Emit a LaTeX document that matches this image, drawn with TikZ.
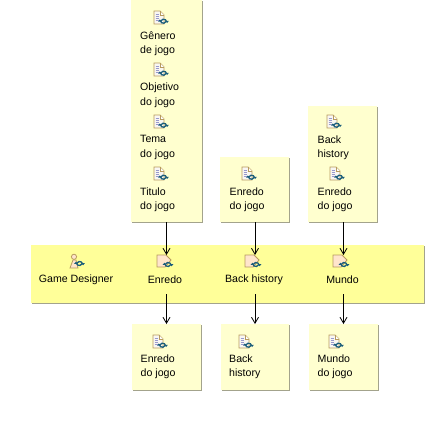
\documentclass[tikz,border=0pt]{standalone}
\usepackage{fontspec}
\setmainfont{Liberation Sans}
\usetikzlibrary{arrows.meta,shadows}

\definecolor{notefill}{HTML}{FFFFCF}
\definecolor{bandfill}{HTML}{FFFF99}
\definecolor{rimgray}{HTML}{A3A38C}
\definecolor{icontan}{HTML}{B89B5E}
\definecolor{iconteal}{HTML}{1B5E7B}

\tikzset{
  note/.style={fill=notefill, inner sep=0pt, anchor=north west,
    drop shadow={shadow xshift=1pt, shadow yshift=-1pt, fill=rimgray, opacity=1}},
  band/.style={note, fill=bandfill},
  caption/.style={inner sep=0pt, align=left, anchor=west,
    font=\fontsize{10.6}{14.5}\selectfont},
  rolename/.style={inner sep=0pt, minimum height=28pt,
    font=\fontsize{10.6}{14.5}\selectfont},
  flow/.style={-{Straight Barb[length=6pt,width=7pt]}, black, line width=0.8pt},
  % the turning arrows that all three icons carry
  turn/.pic={
    \draw[iconteal, line width=1.3pt] (-3.2,-0.6) arc (170:20:3.2);
    \draw[iconteal, line width=1.3pt] (3.2,0.6) arc (-10:-160:3.2);
    \fill[iconteal] (5.4,-0.4) -- (1.9,-0.4) -- (3.6,1.8) -- cycle;
    \fill[iconteal] (-5.4,0.4) -- (-1.9,0.4) -- (-3.6,-1.8) -- cycle;
  },
  artifact/.pic={
    \draw[icontan, fill=white!92!icontan, line width=0.8pt] (-7,-7) -- (-1,-7) -- (3,-3) -- (3,6) -- (-7,6) -- cycle;
    \draw[icontan, fill=white, line width=0.6pt] (-1,-7) -- (-1,-3) -- (3,-3);
    \foreach \y in {-4,-2,0,2}
      \draw[blue!35!gray!60, line width=0.7pt] (-5.5,\y) -- (-2,\y);
    \pic at (2.5,3.2) {turn};
  },
  workitem/.pic={
    \draw[icontan, fill=orange!20!white, line width=0.9pt] (-8,-6) -- (1,-6) -- (6,-1) -- (0,6) -- (-8,6) -- cycle;
    \pic at (3,3.5) {turn};
  },
  roleicon/.pic={
    \draw[icontan, fill=orange!20!white, line width=0.8pt] (-3,-4.2) circle (2.6);
    \draw[icontan, fill=orange!20!white, line width=0.8pt] (-7,7) -- (-4,-1) -- (-1,-1) -- (1,7) -- cycle;
    \pic at (2.5,2.5) {turn};
  }
}

\begin{document}
\begin{tikzpicture}[x=1pt, y=-1pt]
  \useasboundingbox (0,0) rectangle (445,432);

  \node[band, minimum width=393pt, minimum height=58pt] (phase) at (30.5,245) {};

  \node[note, minimum width=71pt, minimum height=222pt] (leftcol) at (131,0) {};
  \node[note, minimum width=69pt, minimum height=65pt] (midcol) at (220,157) {};
  \node[note, minimum width=69pt, minimum height=116pt] (rightcol) at (308,106) {};

  \node[note, minimum width=69pt, minimum height=66pt] (enredoOut) at (131.5,324) {};
  \node[note, minimum width=68pt, minimum height=66pt] (backOut) at (221,324) {};
  \node[note, minimum width=69pt, minimum height=66pt] (mundoOut) at (308.5,324) {};

  \node[caption] (genero) at (140,43.5) {Gênero\\de jogo};
  \node[caption] (objetivo) at (140,95.5) {Objetivo\\do jogo};
  \node[caption] (tema) at (140,147.5) {Tema\\do jogo};
  \node[caption] (titulo) at (140,200) {Titulo\\do jogo};
  \node[caption] (enredoMid) at (229.5,200) {Enredo\\do jogo};
  \node[caption] (backTop) at (317.5,148) {Back\\history};
  \node[caption] (enredoTop) at (317.5,200) {Enredo\\do jogo};
  \node[caption] (enredoLow) at (140.5,367) {Enredo\\do jogo};
  \node[caption] (backLow) at (229,367) {Back\\history};
  \node[caption] (mundoLow) at (317.5,367) {Mundo\\do jogo};

  \foreach \x/\y in {161/18, 161/70, 161/122, 161/174, 249/174, 334/122, 337/174, 160/342, 246/342, 336/342}
    \pic at (\x,\y) {artifact};

  \pic at (77,261) {roleicon};
  \pic at (165,261) {workitem};
  \pic at (253,261) {workitem};
  \pic at (341,261) {workitem};

  \node[rolename] (designer) at (76,280) {Game Designer};
  \node[rolename] (enredoTask) at (165,280) {Enredo};
  \node[rolename] (backTask) at (254,280) {Back history};
  \node[rolename] (mundoTask) at (342.5,280) {Mundo};

  \coordinate (enredoIn) at (166.5,255);
  \coordinate (backIn) at (255,255);
  \coordinate (mundoIn) at (343.5,255);

  \draw[flow] (leftcol.south -| enredoIn) -- (enredoIn);
  \draw[flow] (midcol.south -| backIn) -- (backIn);
  \draw[flow] (rightcol.south -| mundoIn) -- (mundoIn);

  \draw[flow] (enredoTask.south -| enredoIn) -- (enredoOut.north -| enredoIn);
  \draw[flow] (backTask.south -| backIn) -- (backOut.north -| backIn);
  \draw[flow] (mundoTask.south -| mundoIn) -- (mundoOut.north -| mundoIn);
\end{tikzpicture}
\end{document}
